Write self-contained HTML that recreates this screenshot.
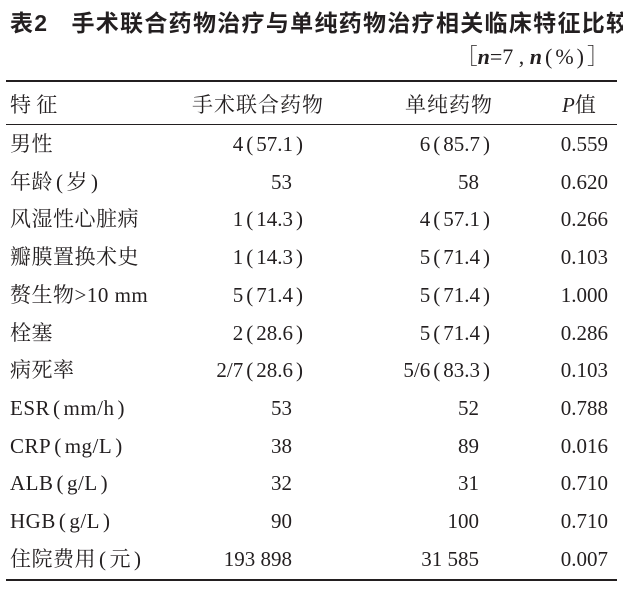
<!DOCTYPE html>
<html><head><meta charset="utf-8">
<style>
body{margin:0;width:623px;height:590px;background:#fff;position:relative;overflow:hidden;font-family:"Liberation Serif","Noto Serif CJK SC",serif;color:#231f20}
.t{position:absolute;white-space:nowrap;font-size:21px;line-height:22px}
.r{text-align:right}
.p{margin:0 3px}
.rule{position:absolute;left:6px;width:611px;background:#231f20}
</style></head><body>
<div class="t" style="left:10px;top:10px;font-size:23px;font-weight:bold;font-family:'Liberation Sans','Noto Sans CJK SC',sans-serif;line-height:26px;letter-spacing:1.3px">表2&nbsp;&nbsp;&nbsp;手术联合药物治疗与单纯药物治疗相关临床特征比较</div>
<div class="t r" style="right:14px;top:44px;font-size:22px;width:250px;line-height:26px">［<b><i>n</i></b>=7 , <b><i>n</i></b><span class="p">(</span>%<span class="p">)</span>］</div>
<div class="rule" style="top:80px;height:2px"></div>
<div class="rule" style="top:124px;height:1px"></div>
<div class="rule" style="top:579px;height:2px"></div>
<div class="t" style="left:10px;top:94px">特 征</div>
<div class="t" style="left:192px;top:94px;letter-spacing:1px">手术联合药物</div>
<div class="t" style="left:405px;top:94px;letter-spacing:1px">单纯药物</div>
<div class="t" style="left:562px;top:94px"><i>P</i>值</div>
<div id="rows"></div>
<script>
const labels=["男性","年龄(岁)","风湿性心脏病","瓣膜置换术史","赘生物>10 mm","栓塞","病死率","ESR(mm/h)","CRP(mg/L)","ALB(g/L)","HGB(g/L)","住院费用(元)"];
const surgery=["4(57.1)","53","1(14.3)","1(14.3)","5(71.4)","2(28.6)","2/7(28.6)","53","38","32","90","193 898"];
const drug=["6(85.7)","58","4(57.1)","5(71.4)","5(71.4)","5(71.4)","5/6(83.3)","52","89","31","100","31 585"];
const pvals=["0.559","0.620","0.266","0.103","1.000","0.286","0.103","0.788","0.016","0.710","0.710","0.007"];
const host=document.getElementById('rows');
function esc(s){return s.replace(/&/g,'&amp;').replace(/</g,'&lt;').replace(/>/g,'&gt;');}
function fmt(s){return esc(s).replace(/\(/g,'<span class="p">(</span>').replace(/\)/g,'<span class="p">)</span>');}
function cell(txt,style,right){
  const d=document.createElement('div');
  d.className='t'+(right?' r':'');
  d.innerHTML=fmt(txt);
  d.style.cssText=style;
  host.appendChild(d);return d;
}
labels.forEach((lab,i)=>{
  const top=133+i*37.7;
  const a=cell(lab,`left:10px;top:${top}px;letter-spacing:0.5px`,false);
  
  
  const pct=surgery[i].includes('(');
  const b=cell(surgery[i],`left:0;width:${pct?306:292}px;top:${top}px`,true);
  
  
  const pct2=drug[i].includes('(');
  const c=cell(drug[i],`left:0;width:${pct2?493:479}px;top:${top}px`,true);
  
  
  const p=cell(pvals[i],`left:0;width:608px;top:${top}px`,true);
  
  
});
</script>
</body></html>
